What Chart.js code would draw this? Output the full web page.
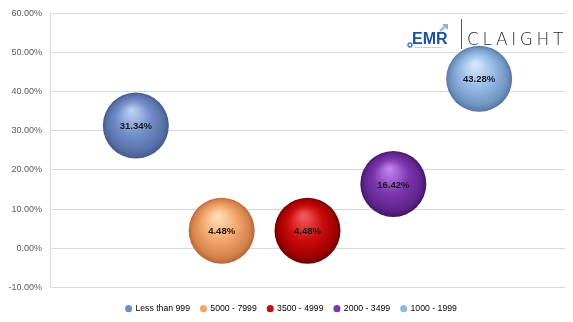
<!DOCTYPE html>
<html>
<head>
<meta charset="utf-8">
<script src="https://cdn.jsdelivr.net/npm/chart.js@4/dist/chart.umd.min.js"></script>
<style>
  html, body { margin: 0; padding: 0; background: #fff; }
  #wrap { width: 573px; height: 322px; }
</style>
</head>
<body>
<div id="wrap"><canvas id="bubbleChart" width="573" height="322"></canvas></div>
<script>
// price bands and their share (%)
var bands = ["Less than 999", "5000 - 7999", "3500 - 4999", "2000 - 3499", "1000 - 1999"];
var bandPos = [1, 2, 3, 4, 5];
var shares = [31.34, 4.48, 4.48, 16.42, 43.28];
var yTicks = [-10, 0, 10, 20, 30, 40, 50, 60];

// sphere shading: highlight, base, shadow, rim
var shades = [
    { hi: 'rgb(186, 206, 238)', base: 'rgb(114, 142, 202)', dark: 'rgb(88, 112, 168)', rim: 'rgb(70, 90, 138)' },
    { hi: 'rgb(255, 222, 180)', base: 'rgb(242, 168, 108)', dark: 'rgb(214, 130, 76)', rim: 'rgb(180, 104, 60)' },
    { hi: 'rgb(240, 90, 90)', base: 'rgb(205, 12, 12)', dark: 'rgb(160, 0, 0)', rim: 'rgb(110, 0, 0)' },
    { hi: 'rgb(190, 130, 235)', base: 'rgb(124, 54, 176)', dark: 'rgb(96, 36, 140)', rim: 'rgb(66, 22, 100)' },
    { hi: 'rgb(212, 230, 250)', base: 'rgb(148, 186, 228)', dark: 'rgb(112, 148, 192)', rim: 'rgb(86, 118, 160)' }
];

var R = 33;

function sphereFill(c, s) {
    var chart = c.chart;
    if (!chart.chartArea || c.type !== 'data') return s.base;
    var x = chart.scales.x.getPixelForValue(c.parsed.x);
    var y = chart.scales.y.getPixelForValue(c.parsed.y);
    var g = chart.ctx.createRadialGradient(x - R * 0.12, y - R * 0.45, R * 0.05, x, y, R);
    g.addColorStop(0, s.hi);
    g.addColorStop(0.5, s.base);
    g.addColorStop(0.86, s.dark);
    g.addColorStop(1, s.rim);
    return g;
}

var datasets = bands.map(function (name, i) {
    return {
        label: name,
        data: [{ x: bandPos[i], y: shares[i] }],
        radius: R,
        hoverRadius: 0,
        borderWidth: 0,
        backgroundColor: function (c) { return sphereFill(c, shades[i]); }
    };
});

// value labels in the middle of each bubble
var valueLabels = {
    id: 'valueLabels',
    afterDatasetsDraw: function (chart) {
        var ctx = chart.ctx;
        ctx.save();
        ctx.font = 'bold 9.5px "Liberation Sans", Arial, sans-serif';
        ctx.fillStyle = '#1a1a1a';
        ctx.textAlign = 'center';
        ctx.textBaseline = 'middle';
        chart.data.datasets.forEach(function (ds, i) {
            chart.getDatasetMeta(i).data.forEach(function (pt, j) {
                ctx.fillText(ds.data[j].y.toFixed(2) + '%', pt.x, pt.y + 1);
            });
        });
        ctx.restore();
    }
};

// push the legend row a little lower and to the right
var legendNudge = {
    id: 'legendNudge',
    afterLayout: function (chart) {
        var lg = chart.legend;
        if (lg) {
            lg.top += 6;
            lg.bottom += 6;
            lg.left += 9;
            lg.right += 9;
        }
    }
};

// brand mark in the top right corner
var brand = {
    id: 'brand',
    afterDraw: function (chart) {
        var ctx = chart.ctx;
        ctx.save();
        ctx.fillStyle = '#1f4f9c';
        ctx.font = 'bold 16px "Liberation Sans", Arial, sans-serif';
        ctx.textBaseline = 'alphabetic';
        ctx.fillText('EMR', 412, 44);
        ctx.fillStyle = '#4a78c0';
        ctx.font = '2.5px "Liberation Sans", Arial, sans-serif';
        ctx.fillText('Expert Market Research', 415, 48);
        ctx.strokeStyle = '#3a7fd0';
        ctx.lineWidth = 1.5;
        ctx.beginPath();
        ctx.arc(410, 45, 2, 0, Math.PI * 2);
        ctx.stroke();
        ctx.strokeStyle = '#8ab0dc';
        ctx.lineWidth = 2;
        ctx.beginPath();
        ctx.moveTo(440, 31);
        ctx.lineTo(447, 25);
        ctx.stroke();
        ctx.beginPath();
        ctx.moveTo(443, 25);
        ctx.lineTo(447, 25);
        ctx.lineTo(447, 29);
        ctx.stroke();
        ctx.strokeStyle = '#555';
        ctx.lineWidth = 1;
        ctx.beginPath();
        ctx.moveTo(461.5, 19);
        ctx.lineTo(461.5, 49);
        ctx.stroke();
        ctx.fillStyle = '#262626';
        ctx.font = '300 17px "DejaVu Sans", sans-serif';
        ctx.letterSpacing = '3.6px';
        ctx.fillText('CLAIGHT', 467, 45);
        ctx.restore();
    }
};

new Chart(document.getElementById('bubbleChart').getContext('2d'), {
    type: 'bubble',
    data: { datasets: datasets },
    options: {
        responsive: false,
        animation: false,
        events: [],
        layout: { autoPadding: false, padding: { left: 0, right: 8, top: 13, bottom: 5 } },
        scales: {
            x: { type: 'linear', min: 0, max: 6, display: false },
            y: {
                min: -10,
                max: 60,
                afterBuildTicks: function (s) { s.ticks = yTicks.map(function (v) { return { value: v }; }); },
                afterFit: function (s) { s.width = 50; },
                border: { display: true, color: '#d9d9d9' },
                grid: { color: '#d9d9d9', drawTicks: false },
                ticks: {
                    padding: 8,
                    color: '#595959',
                    font: { family: '"Liberation Sans", Arial, sans-serif', size: 9 },
                    callback: function (v) { return v.toFixed(2) + '%'; }
                }
            }
        },
        plugins: {
            tooltip: { enabled: false },
            legend: {
                position: 'bottom',
                labels: {
                    usePointStyle: true,
                    boxWidth: 5,
                    boxHeight: 5,
                    padding: 11,
                    color: '#595959',
                    font: { family: '"Liberation Sans", Arial, sans-serif', size: 8.7 },
                    generateLabels: function (chart) {
                        return chart.data.datasets.map(function (ds, i) {
                            return {
                                text: ds.label,
                                fillStyle: shades[i].base,
                                strokeStyle: shades[i].base,
                                lineWidth: 0,
                                pointStyle: 'circle',
                                datasetIndex: i,
                                hidden: false
                            };
                        });
                    }
                }
            }
        }
    },
    plugins: [valueLabels, legendNudge, brand]
});
</script>
</body>
</html>
